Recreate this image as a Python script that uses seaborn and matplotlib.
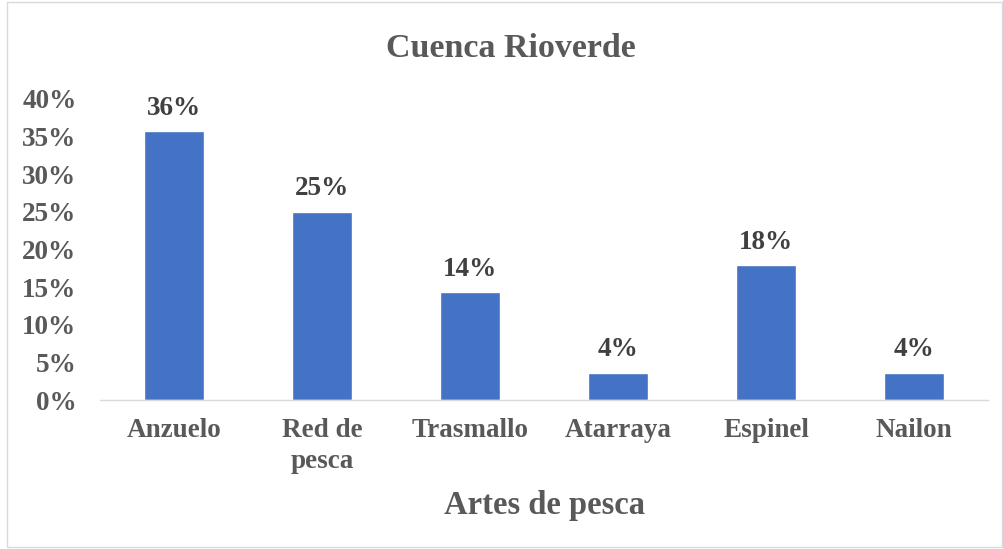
import numpy as np
import pandas as pd
import matplotlib
matplotlib.use('Agg')
import matplotlib.pyplot as plt
import seaborn as sns
from matplotlib.patches import Rectangle
from matplotlib.ticker import PercentFormatter

categorias = ['Anzuelo', 'Red de\npesca', 'Trasmallo', 'Atarraya', 'Espinel', 'Nailon']
porcentajes = [35.7, 25.0, 14.3, 3.6, 17.9, 3.6]
etiquetas = ['36%', '25%', '14%', '4%', '18%', '4%']
yticks = [0, 5, 10, 15, 20, 25, 30, 35, 40]

sns.set_style('white')
plt.rcParams['font.family'] = ['Liberation Serif', 'DejaVu Serif']
plt.rcParams['font.weight'] = 'bold'

gris = '#595959'
df = pd.DataFrame({'cat': categorias, 'val': porcentajes})

fig = plt.figure(figsize=(10.04, 5.49), dpi=100)
ax = fig.add_axes([0.0996, 1 - 400 / 549, 0.8845, (400 - 99) / 549])

sns.barplot(data=df, x='cat', y='val', color='#4472C4', width=0.4,
            saturation=1, ax=ax)

ax.set_ylim(0, 40)
ax.set_xlim(-0.5, len(categorias) - 0.5)
ax.set_yticks(yticks)
ax.yaxis.set_major_formatter(PercentFormatter(decimals=0))
ax.tick_params(axis='y', length=0, pad=17, labelsize=19.5, labelcolor=gris)
ax.tick_params(axis='x', length=0, pad=13, labelsize=19.5, labelcolor=gris)
for lab in ax.get_xticklabels() + ax.get_yticklabels():
    lab.set_fontweight('bold')
    lab.set_linespacing(1.3)

for s in ['top', 'right', 'left']:
    ax.spines[s].set_visible(False)
ax.spines['bottom'].set_color('#d9d9d9')
ax.spines['bottom'].set_linewidth(1)

for i, (v, t) in enumerate(zip(porcentajes, etiquetas)):
    ax.annotate(t, (i, v), xytext=(0, 7.5), textcoords='offset points',
                ha='center', va='bottom', fontsize=19.5, fontweight='bold',
                color='#404040')

ax.set_xlabel('Artes de pesca', fontsize=23.5, fontweight='bold', color=gris,
              labelpad=12)
ax.set_ylabel('')
fig.text(511 / 1004, 1 - 57 / 549, 'Cuenca Rioverde', ha='center', va='baseline',
         fontsize=24.5, fontweight='bold', color=gris)

fig.patches.append(Rectangle((7 / 1004, 2 / 549), 995 / 1004, 545 / 549,
                             transform=fig.transFigure, fill=False,
                             edgecolor='#d9d9d9', linewidth=1))

fig.savefig('out.png', dpi=100)
